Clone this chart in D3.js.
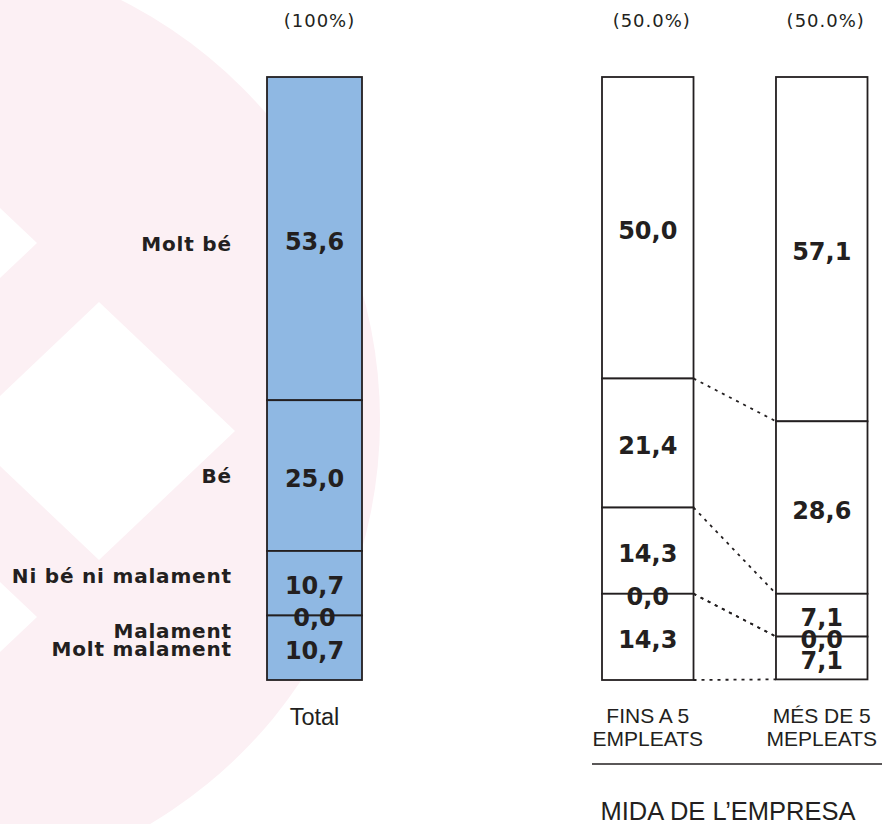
<!DOCTYPE html>
<html>
<head>
<meta charset="utf-8">
<script src="https://cdn.jsdelivr.net/npm/d3@7"></script>
<style>
  html, body { margin: 0; padding: 0; background: #ffffff; }
  svg { display: block; }
</style>
</head>
<body>
<svg id="chart" width="883" height="824"></svg>
<script>
// ---------- DATA ----------
const answers = ["Molt bé", "Bé", "Ni bé ni malament", "Malament", "Molt malament"];
const totalLabel = "Total";
const totalShare = "(100%)";
const totalValues = [53.6, 25.0, 10.7, 0.0, 10.7];

const sizeCategories = [["FINS A 5", "EMPLEATS"], ["MÉS DE 5", "MEPLEATS"]];
const sizeShares = ["(50.0%)", "(50.0%)"];
const sizeValues = [
  [50.0, 21.4, 14.3, 0.0, 14.3],
  [57.1, 28.6, 7.1, 0.0, 7.1]
];
const groupTitle = "MIDA DE L’EMPRESA";

// ---------- STYLE ----------
const ink = "#231f20";
const blue = "#8fb8e3";
const pink = "#fcf0f4";
const boldFont = "'DejaVu Sans', Verdana, sans-serif";
const sansFont = "'Liberation Sans', Arial, sans-serif";
const fmt = v => d3.format(".1f")(v).replace(".", ",");

const svg = d3.select("#chart");

// ---------- background watermark ----------
const wm = svg.append("g");
wm.append("circle").attr("cx", -90).attr("cy", 420).attr("r", 470).attr("fill", pink);
const diamonds = [[-99, 243], [99, 431], [-99, 617]];
wm.selectAll("path.dia").data(diamonds).join("path")
  .attr("class", "dia")
  .attr("fill", "#ffffff")
  .attr("d", ([cx, cy]) => `M${cx - 136},${cy}L${cx},${cy - 129}L${cx + 136},${cy}L${cx},${cy + 129}Z`);

// ---------- scales ----------
const y = d3.scaleLinear().domain([0, 100]).range([77, 680]);
const xTotal = d3.scaleBand().domain([totalLabel]).range([267, 362]);
const sizeKeys = sizeCategories.map(c => c.join(" "));
const xSize = d3.scaleBand().domain(sizeKeys).range([602, 867.5]).paddingInner(0.474).paddingOuter(0);

function stack(values) {
  let acc = 0;
  return values.map((v, i) => {
    const s = { i, v, y0: acc, y1: acc + v };
    acc += v;
    return s;
  });
}

function drawBar(x0, w, values, fill) {
  const segs = stack(values);
  const g = svg.append("g");
  g.selectAll("rect").data(segs).join("rect")
    .attr("x", x0).attr("width", w)
    .attr("y", d => y(d.y0)).attr("height", d => y(d.y1) - y(d.y0))
    .attr("fill", fill).attr("stroke", ink).attr("stroke-width", 1.8);
  g.selectAll("text").data(segs).join("text")
    .attr("x", x0 + w / 2)
    .attr("y", d => (y(d.y0) + y(d.y1)) / 2 + 11)
    .attr("text-anchor", "middle")
    .attr("font-family", boldFont).attr("font-weight", "bold")
    .attr("font-size", 24)
    .attr("fill", ink)
    .text(d => fmt(d.v));
  return segs;
}

// ---------- Total bar ----------
drawBar(xTotal(totalLabel), xTotal.bandwidth(), totalValues, blue);

svg.append("text")
  .attr("x", xTotal(totalLabel) + xTotal.bandwidth() / 2 + 5)
  .attr("y", 27)
  .attr("text-anchor", "middle")
  .attr("font-family", boldFont).attr("font-size", 18).attr("letter-spacing", 1)
  .attr("fill", ink).text(totalShare);

svg.append("text")
  .attr("x", xTotal(totalLabel) + xTotal.bandwidth() / 2)
  .attr("y", 725)
  .attr("text-anchor", "middle")
  .attr("font-family", sansFont).attr("font-size", 23.5)
  .attr("fill", ink).text(totalLabel);

// ---------- category labels on the left ----------
const totSegs = stack(totalValues);
const labelY = totSegs.map(d => (y(d.y0) + y(d.y1)) / 2);
// nudge to avoid overlaps like the original layout
labelY[0] += 5;
labelY[2] -= 7;
labelY[3] += 16;
labelY[4] += 1.5;
svg.append("g").selectAll("text").data(answers).join("text")
  .attr("x", 231 + 0.8)
  .attr("y", (d, i) => labelY[i] + 7)
  .attr("text-anchor", "end")
  .attr("font-family", boldFont).attr("font-weight", "bold")
  .attr("font-size", 20).attr("letter-spacing", 0.8)
  .attr("fill", ink)
  .text(d => d);

// ---------- size bars ----------
const sizeSegs = sizeValues.map((vals, k) =>
  drawBar(xSize(sizeKeys[k]), xSize.bandwidth(), vals, "#ffffff"));

// connectors
const b1 = sizeSegs[0], b2 = sizeSegs[1];
const connectors = b1.map((s, i) => ({ ya: y(s.y1), yb: y(b2[i].y1) }));
svg.append("g").selectAll("line").data(connectors).join("line")
  .attr("x1", xSize(sizeKeys[0]) + xSize.bandwidth())
  .attr("x2", xSize(sizeKeys[1]))
  .attr("y1", d => d.ya).attr("y2", d => d.yb)
  .attr("stroke", ink).attr("stroke-width", 1.8)
  .attr("stroke-dasharray", "3 5");

// shares on top
svg.append("g").selectAll("text").data(sizeShares).join("text")
  .attr("x", (d, k) => xSize(sizeKeys[k]) + xSize.bandwidth() / 2 + 4)
  .attr("y", 27)
  .attr("text-anchor", "middle")
  .attr("font-family", boldFont).attr("font-size", 18).attr("letter-spacing", 1)
  .attr("fill", ink).text(d => d);

// category names below
sizeCategories.forEach((lines, k) => {
  const t = svg.append("text")
    .attr("x", xSize(sizeKeys[k]) + xSize.bandwidth() / 2)
    .attr("y", 723)
    .attr("text-anchor", "middle")
    .attr("font-family", sansFont).attr("font-size", 21)
    .attr("fill", ink);
  lines.forEach((ln, j) => {
    t.append("tspan")
      .attr("x", xSize(sizeKeys[k]) + xSize.bandwidth() / 2)
      .attr("dy", j === 0 ? 0 : 22.5)
      .text(ln);
  });
});

// group rule and title
svg.append("line")
  .attr("x1", 592).attr("x2", 882)
  .attr("y1", 764).attr("y2", 764)
  .attr("stroke", ink).attr("stroke-width", 1.6);

svg.append("text")
  .attr("x", 728).attr("y", 820)
  .attr("text-anchor", "middle")
  .attr("font-family", sansFont).attr("font-size", 25.5)
  .attr("fill", ink).text(groupTitle);
</script>
</body>
</html>
